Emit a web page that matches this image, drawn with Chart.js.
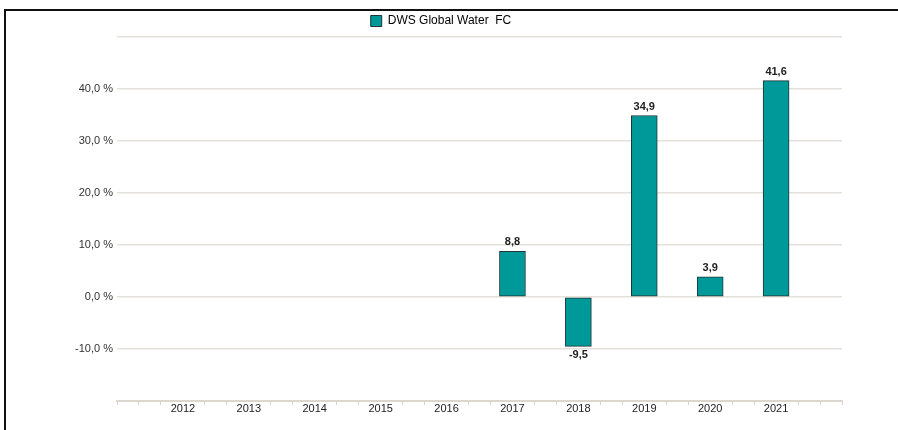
<!DOCTYPE html>
<html>
<head>
<meta charset="utf-8">
<script src="https://cdn.jsdelivr.net/npm/chart.js@4/dist/chart.umd.min.js"></script>
<style>
  html, body { margin: 0; padding: 0; background: #fff; overflow: hidden; }
  canvas { display: block; }
</style>
</head>
<body>
<canvas id="c" width="898" height="430"></canvas>
<script>
// ---- data ----
const years = [2012, 2013, 2014, 2015, 2016, 2017, 2018, 2019, 2020, 2021];
const returns = [null, null, null, null, null, 8.8, -9.5, 34.9, 3.9, 41.6];
const seriesName = 'DWS Global Water  FC';
const yTicks = [-20, -10, 0, 10, 20, 30, 40, 50];
const yLabelled = [-10, 0, 10, 20, 30, 40];

const xMin = years[0] - 1, xMax = years[years.length - 1] + 1;
const fmt = v => v.toFixed(1).replace('.', ',');
const isYear = v => Math.abs(v - Math.round(v)) < 1e-6 && years.includes(Math.round(v));

Chart.defaults.font.family = "'Liberation Sans', Arial, sans-serif";
Chart.defaults.color = '#222';

// outer frame (left and top edges only, as in the source image)
const frame = {
  id: 'frame',
  beforeDraw(chart) {
    const ctx = chart.ctx;
    ctx.save();
    ctx.strokeStyle = '#111';
    ctx.lineWidth = 2;
    ctx.beginPath();
    ctx.moveTo(5, chart.height);
    ctx.lineTo(5, 10);
    ctx.lineTo(chart.width, 10);
    ctx.stroke();
    ctx.restore();
  }
};

const valueLabels = {
  id: 'valueLabels',
  afterDatasetsDraw(chart) {
    const ctx = chart.ctx;
    const meta = chart.getDatasetMeta(0);
    ctx.save();
    ctx.font = "bold 11px 'Liberation Sans', Arial, sans-serif";
    ctx.fillStyle = '#222';
    ctx.textAlign = 'center';
    ctx.textBaseline = 'alphabetic';
    meta.data.forEach((el, i) => {
      const v = chart.data.datasets[0].data[i].y;
      if (v === null || v === undefined) return;
      const p = el.getProps(['x', 'y'], true);
      if (v >= 0) ctx.fillText(fmt(v), p.x, p.y - 6);
      else ctx.fillText(fmt(v), p.x, p.y + 12);
    });
    ctx.restore();
  }
};

new Chart(document.getElementById('c'), {
  type: 'bar',
  data: {
    datasets: [{
      label: seriesName,
      data: years.map((y, i) => ({ x: y, y: returns[i] })),
      backgroundColor: '#009999',
      borderColor: '#1d3535',
      borderWidth: 1,
      borderSkipped: false,
      barThickness: 26
    }]
  },
  options: {
    responsive: false,
    animation: false,
    layout: { padding: { left: 40, right: 56, top: 1, bottom: 0 } },
    plugins: {
      legend: {
        position: 'top',
        labels: {
          boxWidth: 11, boxHeight: 11, padding: 14,
          font: { size: 12 }, color: '#222',
          generateLabels: (chart) => [{
            text: seriesName, fillStyle: '#009999', strokeStyle: '#1d3535',
            lineWidth: 1, hidden: false, datasetIndex: 0
          }]
        }
      },
      tooltip: { enabled: false }
    },
    scales: {
      x: {
        type: 'linear',
        offset: false,
        min: xMin, max: xMax,
        afterBuildTicks: (scale) => {
          const t = [];
          for (let i = 0; i <= (xMax - xMin) * 3; i++) t.push({ value: xMin + i / 3 });
          scale.ticks = t;
        },
        afterFit: (scale) => { scale.height = 29; },
        ticks: {
          autoSkip: false, maxRotation: 0, padding: -3,
          font: { size: 11 }, color: '#222',
          callback: (v) => isYear(v) ? String(Math.round(v)) : ''
        },
        grid: {
          offset: false,
          drawOnChartArea: false, drawTicks: true, tickLength: 4, tickWidth: 1,
          tickColor: (ctx) => (ctx.tick && isYear(ctx.tick.value)) ? 'rgba(0,0,0,0)' : '#d9d5cb'
        },
        border: { display: true, color: '#dbd7cd', width: 2 }
      },
      y: {
        min: yTicks[0], max: yTicks[yTicks.length - 1],
        afterBuildTicks: (scale) => { scale.ticks = yTicks.map(v => ({ value: v })); },
        afterFit: (scale) => { scale.width = 77; },
        ticks: {
          padding: 4, font: { size: 11 }, color: '#333',
          callback: (v) => yLabelled.includes(v) ? fmt(v) + ' %' : ''
        },
        grid: {
          drawTicks: false, lineWidth: 1.5,
          color: (ctx) => (ctx.tick && ctx.tick.value === yTicks[0]) ? 'rgba(0,0,0,0)' : '#e4e1da'
        },
        border: { display: false }
      }
    }
  },
  plugins: [frame, valueLabels]
});
</script>
</body>
</html>
